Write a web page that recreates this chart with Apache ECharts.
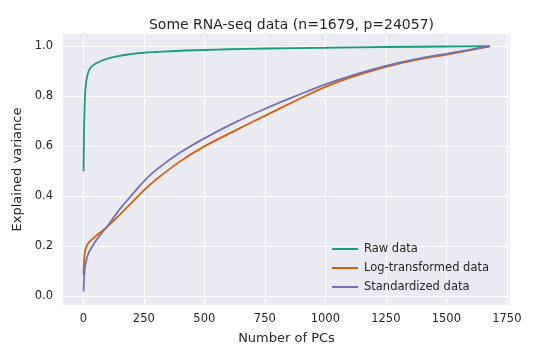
<!DOCTYPE html>
<html>
<head>
<meta charset="utf-8">
<script src="https://cdn.jsdelivr.net/npm/echarts@6/dist/echarts.min.js"></script>
<style>html,body{margin:0;padding:0;background:#fff}#c{width:540px;height:360px}</style>
</head>
<body>
<div id="c"></div>
<script>
// Number of PCs at which values were read
const pcs = [1, 3, 7, 15, 25, 50, 75, 100, 150, 200, 250, 300, 400, 500, 625, 750, 875, 1000, 1125, 1250, 1375, 1500, 1600, 1679];
// Raw data (separate sampling, steep start)
const rawPcs = [1, 2, 3, 5, 8, 12, 20, 30, 50, 75, 100, 150, 200, 250, 300, 400, 500, 600, 750, 1000, 1250, 1500, 1679];
const rawData = [0.50, 0.60, 0.67, 0.75, 0.82, 0.86, 0.895, 0.915, 0.93, 0.942, 0.951, 0.962, 0.969, 0.974, 0.977, 0.982, 0.985, 0.988, 0.991, 0.994, 0.997, 0.999, 1.0];
const logData = [0.087, 0.14, 0.18, 0.205, 0.218, 0.24, 0.26, 0.28, 0.326, 0.375, 0.424, 0.467, 0.54, 0.60, 0.662, 0.722, 0.781, 0.838, 0.882, 0.918, 0.946, 0.967, 0.985, 1.0];
const stdData = [0.02, 0.07, 0.12, 0.155, 0.18, 0.22, 0.252, 0.282, 0.348, 0.405, 0.46, 0.505, 0.575, 0.632, 0.695, 0.75, 0.80, 0.848, 0.888, 0.922, 0.949, 0.970, 0.987, 1.0];
const seriesNames = ['Raw data', 'Log-transformed data', 'Standardized data'];
const xTicks = [0, 250, 500, 750, 1000, 1250, 1500, 1750];
const yTicks = [0, 0.2, 0.4, 0.6, 0.8, 1.0];

const font = 'DejaVu Sans';
const txt = '#262626';
const pair = (xs, ys) => xs.map((x, i) => [x, ys[i]]);

const chart = echarts.init(document.getElementById('c'), null, {renderer: 'canvas'});
chart.setOption({
  animation: false,
  backgroundColor: '#ffffff',
  title: {
    text: 'Some RNA-seq data (n=1679, p=24057)',
    left: 286.5, textAlign: 'center', top: 13,
    textStyle: {fontFamily: font, fontSize: 14, fontWeight: 'normal', color: txt}
  },
  grid: {left: 63, right: 30, top: 34, bottom: 55, show: true, backgroundColor: '#EAEAF2', borderWidth: 0},
  xAxis: {
    type: 'value', min: -84, max: 1763,
    name: 'Number of PCs', nameLocation: 'middle', nameGap: 27,
    nameTextStyle: {fontFamily: font, fontSize: 13, color: txt},
    axisLine: {show: false},
    axisTick: {show: false, customValues: xTicks},
    axisLabel: {customValues: xTicks, fontFamily: font, fontSize: 11.5, color: txt, margin: 8,
      formatter: v => String(v)},
    splitLine: {show: true, lineStyle: {color: '#ffffff', width: 1}}
  },
  yAxis: {
    type: 'value', min: -0.034, max: 1.049,
    name: 'Explained variance', nameLocation: 'middle', nameGap: 31,
    nameTextStyle: {fontFamily: font, fontSize: 13, color: txt},
    axisLine: {show: false},
    axisTick: {show: false, customValues: yTicks},
    axisLabel: {customValues: yTicks, fontFamily: font, fontSize: 11.5, color: txt, margin: 10,
      formatter: v => v.toFixed(1)},
    splitLine: {show: true, lineStyle: {color: '#ffffff', width: 1}}
  },
  legend: {
    orient: 'vertical', left: 327, top: 237,
    itemWidth: 26, itemHeight: 2, itemGap: 5, icon: 'rect',
    textStyle: {fontFamily: font, fontSize: 11.5, color: txt, lineHeight: 14, padding: [0, 0, 0, 1]},
    data: seriesNames
  },
  series: [
    {name: seriesNames[0], type: 'line', data: pair(rawPcs, rawData), showSymbol: false, smooth: 0.4,
      lineStyle: {color: '#1b9e77', width: 1.8}, itemStyle: {color: '#1b9e77'}},
    {name: seriesNames[1], type: 'line', data: pair(pcs, logData), showSymbol: false, smooth: 0.4,
      lineStyle: {color: '#d95f02', width: 1.8}, itemStyle: {color: '#d95f02'}},
    {name: seriesNames[2], type: 'line', data: pair(pcs, stdData), showSymbol: false, smooth: 0.4,
      lineStyle: {color: '#7570b3', width: 1.8}, itemStyle: {color: '#7570b3'}}
  ]
});
</script>
</body>
</html>
